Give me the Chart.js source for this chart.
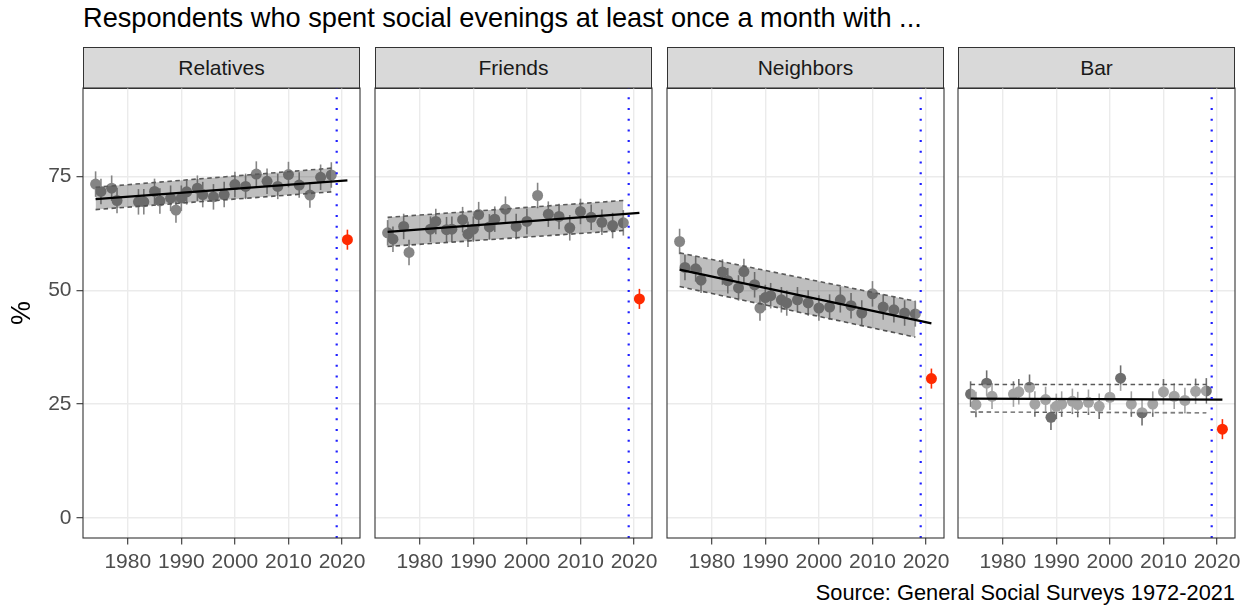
<!DOCTYPE html>
<html>
<head>
<meta charset="utf-8">
<script src="https://cdn.jsdelivr.net/npm/chart.js@4.4.1/dist/chart.umd.min.js"></script>
<style>
  body { margin: 0; background: #fff; width: 1250px; height: 608px; position: relative; overflow: hidden;
         font-family: 'Liberation Sans', Arial, sans-serif; }
  .title { position: absolute; left: 83px; top: 4px; font-size: 27.2px; line-height: 1; color: #000; white-space: nowrap; }
  .caption { position: absolute; right: 15px; top: 581.5px; font-size: 21.8px; line-height: 1; color: #000; white-space: nowrap; }
  .strip { position: absolute; top: 47px; width: 277px; height: 42px; box-sizing: border-box; border: 1.1px solid #333;
           background: #d9d9d9; color: #1a1a1a; font-size: 21px; line-height: 40px; text-align: center; }
  canvas { position: absolute; }
</style>
</head>
<body>
<div class="title">Respondents who spent social evenings at least once a month with ...</div>
<div class="caption">Source: General Social Surveys 1972-2021</div>
<script>
// survey years (same for every panel)
const years = [1974, 1975, 1977, 1978, 1982, 1983, 1985, 1986, 1988, 1989, 1990, 1991, 1993,
               1994, 1996, 1998, 2000, 2002, 2004, 2006, 2008, 2010, 2012, 2014, 2016, 2018];

const relatives = [73.3, 71.7, 72.4, 69.7, 69.4, 69.4, 71.7, 69.6, 70.2, 67.6, 70.2, 71.6, 72.4,
                   71.0, 70.5, 71.0, 73.2, 72.8, 75.5, 73.9, 72.8, 75.4, 73.1, 70.9, 74.8, 75.3];
const friends   = [62.6, 61.2, 64.0, 58.3, 63.4, 65.1, 63.3, 63.4, 65.5, 62.3, 63.4, 66.6, 63.9,
                   65.6, 67.8, 64.0, 65.1, 70.8, 66.7, 66.2, 63.7, 67.3, 66.0, 64.9, 64.2, 64.8];
const neighbors = [60.7, 55.0, 54.7, 52.2, 54.0, 52.1, 50.5, 54.1, 51.2, 46.1, 48.4, 48.8, 47.9,
                   47.2, 47.9, 47.2, 46.1, 46.3, 47.9, 46.6, 45.0, 49.2, 46.3, 45.7, 45.0, 44.8];
const bar       = [27.2, 24.9, 29.6, 26.7, 27.2, 27.7, 28.7, 25.0, 26.0, 22.1, 24.5, 25.0, 25.6,
                   24.9, 25.4, 24.5, 26.5, 30.7, 25.0, 23.1, 25.0, 27.7, 26.7, 25.8, 27.8, 27.9];

// 2021 value (red) per panel
const latestYear = 2021;
const latest = [61.1, 48.1, 30.6, 19.5];

// linear trend, value at start and end year
const trendYears = [1974, 2021];
const relTrend = [70.0, 74.1];
const friTrend = [62.8, 67.0];
const neiTrend = [54.5, 42.7];
const barTrend = [26.2, 26.0];

// prediction band
const bandYears = [1974, 2018];
const relUpper = [72.6, 76.8], relLower = [67.7, 71.6];
const friUpper = [66.0, 69.7], friLower = [59.6, 63.1];
const neiUpper = [58.2, 47.6], neiLower = [50.8, 39.7];
const barUpper = [29.3, 29.3], barLower = [23.3, 23.1];

const panelNames = ['Relatives', 'Friends', 'Neighbors', 'Bar'];
const xTicks = [1980, 1990, 2000, 2010, 2020];
const yTicks = [0, 25, 50, 75];
const cutYear = 2019;
const errHalf = 2.8;
const latestErr = 2.2;

const series = [relatives, friends, neighbors, bar];
const trends = [relTrend, friTrend, neiTrend, barTrend];
const uppers = [relUpper, friUpper, neiUpper, barUpper];
const lowers = [relLower, friLower, neiLower, barLower];

const X_MIN = 1971.65, X_MAX = 2023.35, Y_MIN = -4.4, Y_MAX = 94.4;
const panelLeft = [83, 375, 667, 958];
const PANEL_W = 277, PANEL_TOP = 88, PANEL_H = 450, PAD = 12, PAD_TOP = 22;

const styles = [
  { point: '#858585', ribbon: 'rgba(52,52,52,0.32)' },
  { point: '#858585', ribbon: 'rgba(52,52,52,0.32)' },
  { point: '#858585', ribbon: 'rgba(52,52,52,0.32)' },
  { point: '#6e6e6e', ribbon: 'rgba(255,255,255,0.37)' }
];

const errorBars = {
  id: 'errorBars',
  beforeDatasetsDraw(chart) {
    const { ctx, scales: { x, y } } = chart;
    ctx.save();
    ctx.beginPath();
    ctx.rect(chart.chartArea.left, chart.chartArea.top, chart.chartArea.width, chart.chartArea.height);
    ctx.clip();
    chart.data.datasets.forEach(ds => {
      if (!ds.errHalf) return;
      ctx.strokeStyle = ds.backgroundColor;
      ctx.lineWidth = 1.6;
      ds.data.forEach(p => {
        const px = x.getPixelForValue(p.x);
        ctx.beginPath();
        ctx.moveTo(px, y.getPixelForValue(p.y - ds.errHalf));
        ctx.lineTo(px, y.getPixelForValue(p.y + ds.errHalf));
        ctx.stroke();
      });
    });
    ctx.restore();
  }
};

const panelBorder = {
  id: 'panelBorder',
  afterDraw(chart) {
    const { ctx, chartArea: a } = chart;
    ctx.save();
    ctx.strokeStyle = '#333';
    ctx.lineWidth = 1.1;
    ctx.strokeRect(a.left, a.top, a.width, a.height);
    ctx.restore();
  }
};

const pairs = (xs, ys) => xs.map((v, i) => ({ x: v, y: ys[i] }));

panelNames.forEach((name, i) => {
  const strip = document.createElement('div');
  strip.className = 'strip';
  strip.style.left = panelLeft[i] + 'px';
  strip.textContent = name;
  document.body.appendChild(strip);

  const first = i === 0;
  const leftW = first ? panelLeft[0] : PAD;
  const canvas = document.createElement('canvas');
  canvas.width = leftW + PANEL_W + PAD;
  canvas.height = PAD_TOP + PANEL_H + 40;
  canvas.style.left = (panelLeft[i] - leftW) + 'px';
  canvas.style.top = (PANEL_TOP - PAD_TOP) + 'px';
  document.body.appendChild(canvas);

  const st = styles[i];
  new Chart(canvas, {
    data: {
      datasets: [
        { type: 'line', data: [{ x: cutYear, y: Y_MIN }, { x: cutYear, y: Y_MAX }], borderColor: '#1f1fff',
          borderWidth: 2.2, borderDash: [2, 8.7], pointRadius: 0, order: 0 },
        { type: 'line', data: pairs(trendYears, trends[i]), borderColor: '#000', borderWidth: 2.3,
          pointRadius: 0, order: 1 },
        { type: 'line', data: pairs(bandYears, uppers[i]), borderColor: '#5a5a5a', borderWidth: 1.6,
          borderDash: [4.5, 3.5], pointRadius: 0, fill: '+1', backgroundColor: st.ribbon, order: 2 },
        { type: 'line', data: pairs(bandYears, lowers[i]), borderColor: '#5a5a5a', borderWidth: 1.6,
          borderDash: [4.5, 3.5], pointRadius: 0, order: 2 },
        { type: 'scatter', data: [{ x: latestYear, y: latest[i] }], backgroundColor: '#ff2a00',
          pointRadius: 5.5, borderWidth: 0, errHalf: latestErr, order: 4 },
        { type: 'scatter', data: pairs(years, series[i]), backgroundColor: st.point,
          pointRadius: 5.5, borderWidth: 0, errHalf: errHalf, order: 5 }
      ]
    },
    options: {
      responsive: false,
      animation: false,
      events: [],
      layout: { padding: { top: PAD_TOP, right: PAD, bottom: 0, left: first ? 0 : PAD } },
      plugins: { legend: { display: false }, tooltip: { enabled: false } },
      scales: {
        x: {
          type: 'linear', min: X_MIN, max: X_MAX,
          afterBuildTicks: s => { s.ticks = xTicks.map(v => ({ value: v })); },
          afterFit: s => { s.height = 40; },
          ticks: { color: '#4d4d4d', font: { size: 21, family: "'Liberation Sans', Arial" }, padding: 5,
                   maxRotation: 0, autoSkip: false, callback: v => String(v) },
          grid: { color: '#ebebeb', lineWidth: 1.4, tickLength: 6.5, tickColor: '#333', tickWidth: 1.1 },
          border: { display: false }
        },
        y: {
          type: 'linear', min: Y_MIN, max: Y_MAX,
          afterBuildTicks: s => { s.ticks = yTicks.map(v => ({ value: v })); },
          afterFit: s => { s.width = first ? panelLeft[0] : 0; },
          ticks: { display: first, color: '#4d4d4d', font: { size: 21, family: "'Liberation Sans', Arial" }, padding: 5 },
          grid: { color: '#ebebeb', lineWidth: 1.4, drawTicks: first, tickLength: 6.5, tickColor: '#333', tickWidth: 1.1 },
          border: { display: false },
          title: { display: first, text: '%', color: '#000', font: { size: 27, family: "'Liberation Sans', Arial" },
                   padding: { top: 6, bottom: 0 } }
        }
      }
    },
    plugins: [errorBars, panelBorder]
  });
});
</script>
</body>
</html>
